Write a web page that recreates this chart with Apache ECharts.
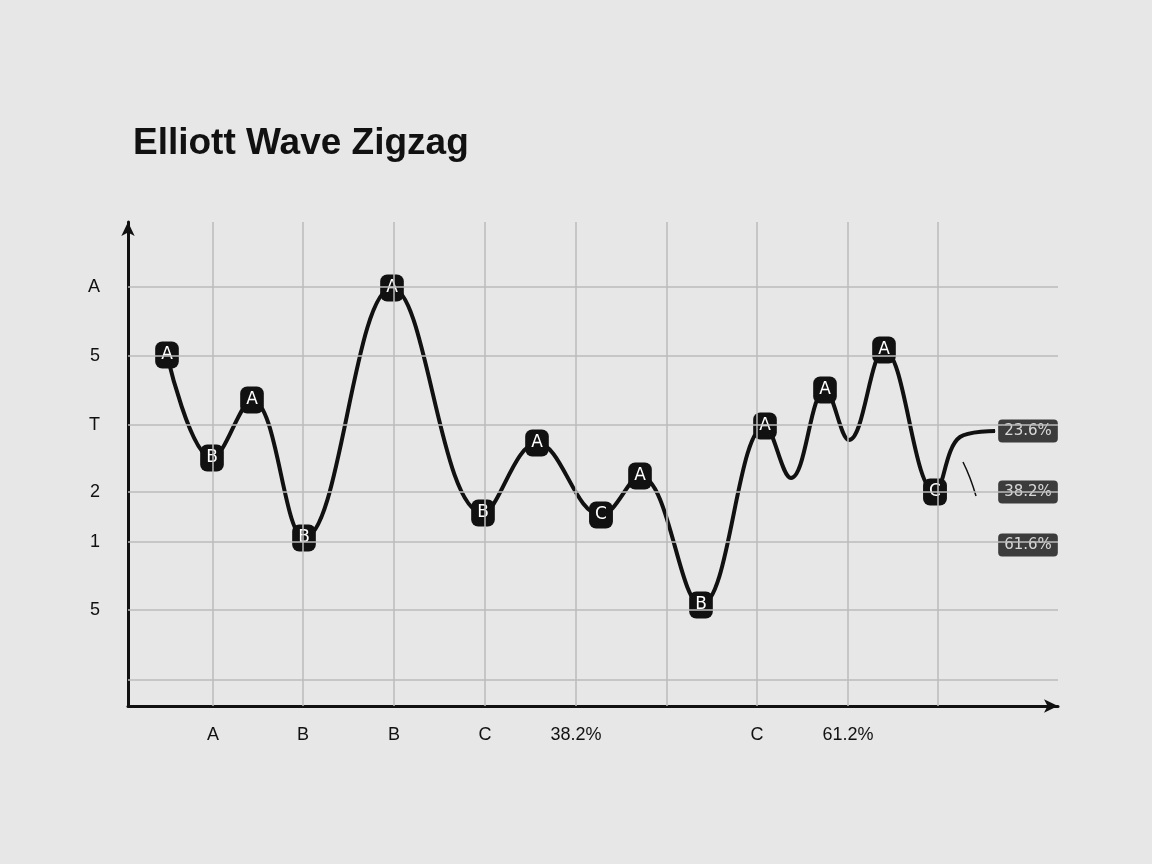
<!DOCTYPE html>
<html><head><meta charset="utf-8">
<script src="https://cdn.jsdelivr.net/npm/echarts@6/dist/echarts.min.js"></script>
<style>html,body{margin:0;background:#e8e7e8;}#c{width:1152px;height:864px;}</style>
</head><body><div id="c"></div>
<script>
const waveX = [39,84,124,176,264,355,409,473,512,573,637,663,697,721,756,807,832,867];
const waveY = [351,248,306,168,418,193,263,191,230,101,280,228,316,266,356,214,269,275];
const waveLabels = ['A','B','A','B','A','B','A','C','A','B','A','','A','','A','C','',''];
const yTicks = [26,96,164,214,281,350,419];
const yTickLabels = {96:'5',164:'1',214:'2',281:'T',350:'5',419:'A'};
const xTicks = [85,175,266,357,448,539,629,720,810];
const xTickLabels = {85:'A',175:'B',266:'B',357:'C',448:'38.2%',629:'C',720:'61.2%'};
const fibX = [900,900,900];
const fibY = [275,214,161];
const fibLabels = ['23.6%','38.2%','61.6%'];
const hookX = [835,842,848];
const hookY = [244,228,210];

const badge = {show:true,position:'inside',color:'#fff',backgroundColor:'#111',borderRadius:7,padding:[5,6],fontSize:17,fontFamily:'DejaVu Sans'};
const chart = echarts.init(document.getElementById('c'));
chart.setOption({
  backgroundColor:'#e8e7e8',
  title:{text:'Elliott Wave Zigzag',left:128,top:120,textStyle:{fontSize:37,fontWeight:'bold',color:'#111',fontFamily:'Liberation Sans'}},
  grid:{left:128,top:222,width:930,height:484},
  xAxis:{type:'value',min:0,max:930,splitLine:{show:false},axisTick:{show:false},
    axisLine:{lineStyle:{color:'#111',width:3},symbol:['none','arrow'],symbolSize:[10,14]},
    axisLabel:{customValues:Object.keys(xTickLabels).map(Number),formatter:v=>xTickLabels[v]||'',color:'#111',fontSize:18,margin:20,fontFamily:'Liberation Sans'}},
  yAxis:{type:'value',min:0,max:484,splitLine:{show:false},axisTick:{show:false},
    axisLine:{show:true,lineStyle:{color:'#111',width:3},symbol:['none','arrow'],symbolSize:[10,14]},
    axisLabel:{customValues:Object.keys(yTickLabels).map(Number),formatter:v=>yTickLabels[v]||'',color:'#111',fontSize:18,margin:28,fontFamily:'Liberation Sans'}},
  series:[
    {type:'line',data:[],silent:true,markLine:{silent:true,symbol:'none',label:{show:false},lineStyle:{color:'#bbbbbb',width:1.5,type:'solid'},
      data:[...yTicks.map(v=>({yAxis:v})),...xTicks.map(v=>({xAxis:v}))]}},
    {type:'line',smooth:0.4,symbol:'circle',symbolSize:1,lineStyle:{color:'#111',width:4},itemStyle:{color:'#111'},
      data:waveX.map((x,i)=>({value:[x,waveY[i]],label:waveLabels[i]?Object.assign({},badge,{formatter:waveLabels[i]}):{show:false}}))},
    {type:'line',smooth:true,symbol:'none',lineStyle:{color:'#111',width:1.5},data:hookX.map((x,i)=>[x,hookY[i]])},
    {type:'scatter',symbolSize:0,clip:false,
      data:fibX.map((x,i)=>({value:[x,fibY[i]],label:Object.assign({},badge,{formatter:fibLabels[i],fontSize:15,padding:[4,6],borderRadius:4})}))}
  ]
});
</script></body></html>
